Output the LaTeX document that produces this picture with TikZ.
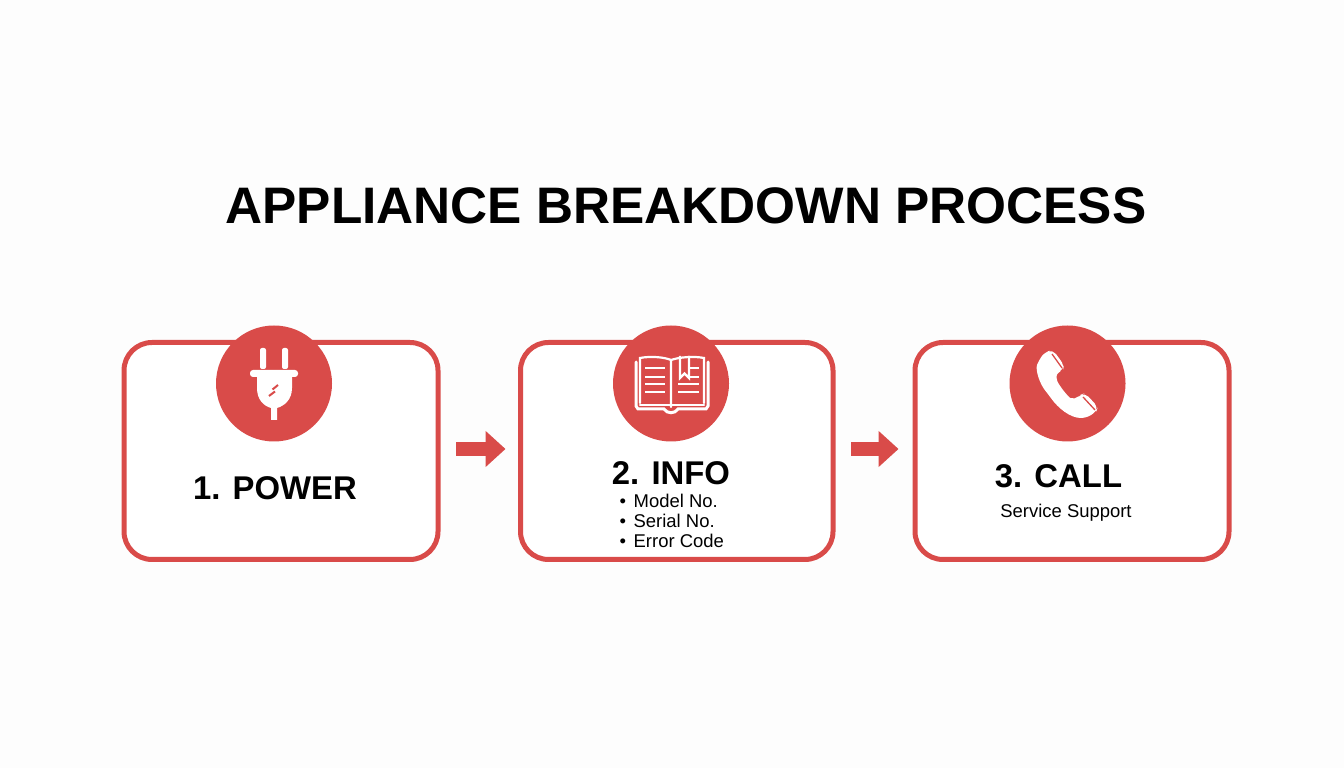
\documentclass[tikz,border=0pt]{standalone}
\usepackage{fontspec}
\setmainfont{Liberation Sans}
\usetikzlibrary{arrows.meta}
\definecolor{breakRed}{HTML}{D94B49}
\definecolor{paper}{HTML}{FDFDFD}
\newcommand{\listItem}[1]{\textbullet\hspace{0.75mm}#1}

\begin{document}
\begin{tikzpicture}[x=0.1mm, y=-0.1mm]
  \tikzset{
    stepbox/.style={draw=breakRed, line width=0.5mm, rounded corners=2.8mm, fill=white,
      minimum height=21.7mm, inner sep=0pt},
    stepdisc/.style={circle, fill=breakRed, minimum size=11.6mm, inner sep=0pt},
    flowarrow/.style={draw=breakRed, line width=1.4mm, -{Triangle[length=2mm,width=3.5mm]}},
    whiteline/.style={draw=white, line width=0.3mm, line cap=round},
    stephead/.style={font=\fontsize{9.35pt}{12pt}\selectfont\bfseries, inner sep=0pt},
    steplist/.style={font=\fontsize{5.25pt}{5.69pt}\selectfont, inner sep=0pt, align=left}
  }
  \useasboundingbox[fill=paper] (0,0) rectangle (1344,768);

  \node(title) at (686,206) [inner sep=0pt, font=\fontsize{14.6pt}{18pt}\selectfont\bfseries] {APPLIANCE BREAKDOWN PROCESS};

  \node(POWER-box) at (281,451) [stepbox, minimum width=31.4mm] {};
  \node(INFO-box) at (676.75,451) [stepbox, minimum width=31.25mm] {};
  \node(CALL-box) at (1072,451) [stepbox, minimum width=31.4mm] {};

  \draw[flowarrow, shorten <=1.55mm, shorten >=1.25mm] ([yshift=0.2mm]POWER-box.east) -- ([yshift=0.2mm]INFO-box.west);
  \draw[flowarrow, shorten <=1.55mm, shorten >=1.4mm] ([yshift=0.2mm]INFO-box.east) -- ([yshift=0.2mm]CALL-box.west);

  \node(POWER-disc) at (274,383.5) [stepdisc] {};
  \node(INFO-disc) at (671,383.5) [stepdisc] {};
  \node(CALL-disc) at (1067.5,383.5) [stepdisc] {};

  % plug
  \fill[white, rounded corners=0.2mm] (260,348) rectangle (266,369);
  \fill[white, rounded corners=0.2mm] (282,348) rectangle (288,369);
  \fill[white, rounded corners=0.3mm] (250,370) rectangle (298,377);
  \fill[white] (257,377) -- (292,377) -- (292,388) .. controls (292,400) and (284,406) .. (277,408)
    -- (277,420) -- (271,420) -- (271,408) .. controls (264,406) and (257,400) .. (257,388) -- cycle;
  \draw[breakRed, line width=0.2mm] (272.5,389.5) -- (278,385);
  \draw[breakRed, line width=0.2mm] (269,396) -- (275,391.5);

  % book
  \draw[whiteline] (636,362) -- (636,406) -- (638,409) -- (664,409) .. controls (667,414) and (675,414) .. (678,409)
    -- (706,409) -- (708,406) -- (708,362);
  \draw[whiteline, line width=0.22mm] (640,403) -- (640,358) .. controls (650,356) and (664,357) .. (671,360) -- (671,407);
  \draw[whiteline, line width=0.22mm] (671,360) .. controls (680,357) and (694,356) .. (704,358) -- (704,403);
  \draw[whiteline, line width=0.22mm] (640,405) -- (670,405);
  \draw[whiteline, line width=0.22mm] (672,405) -- (704,405);
  \foreach \yPos in {368,377,384,392} {
    \draw[whiteline, line cap=butt, line width=0.22mm] (645,\yPos) -- (665,\yPos);
  }
  \foreach \yPos in {384,392} {
    \draw[whiteline, line cap=butt, line width=0.22mm] (678,\yPos) -- (699,\yPos);
  }
  \foreach \yPos in {368,377} {
    \draw[whiteline, line cap=butt, line width=0.22mm] (690,\yPos) -- (699,\yPos);
  }
  \draw[whiteline, line cap=butt, line join=miter, line width=0.22mm] (680,356) -- (680,378) -- (684.5,373.5) -- (689,378) -- (689,356);

  % phone
  \fill[white, rounded corners=0.5mm] (1045,352) -- (1053,350) -- (1064,365) -- (1063,370) -- (1056,373)
    -- (1056,376) .. controls (1058,384) and (1068,397) .. (1075,400) -- (1080,395)
    -- (1085,393) -- (1098,407) -- (1096,412) -- (1086,418)
    .. controls (1070,418) and (1058,408) .. (1048,394)
    .. controls (1040,384) and (1035,370) .. (1039,360) -- cycle;
  \draw[breakRed, line width=0.13mm] (1052,354) -- (1062,368);
  \draw[breakRed, line width=0.13mm] (1083,397) -- (1095,410);

  \node(POWER-head) at (275,488) [stephead] {1. POWER};
  \node(INFO-head) at (671,473) [stephead] {2. INFO};
  \node(CALL-head) at (1058.5,476) [stephead] {3. CALL};
  \node(INFO-list) at (619,521) [steplist, anchor=west] {\listItem{Model No.}\\\listItem{Serial No.}\\\listItem{Error Code}};
  \node(CALL-note) at (1066,513) [steplist] {Service Support};
\end{tikzpicture}
\end{document}
